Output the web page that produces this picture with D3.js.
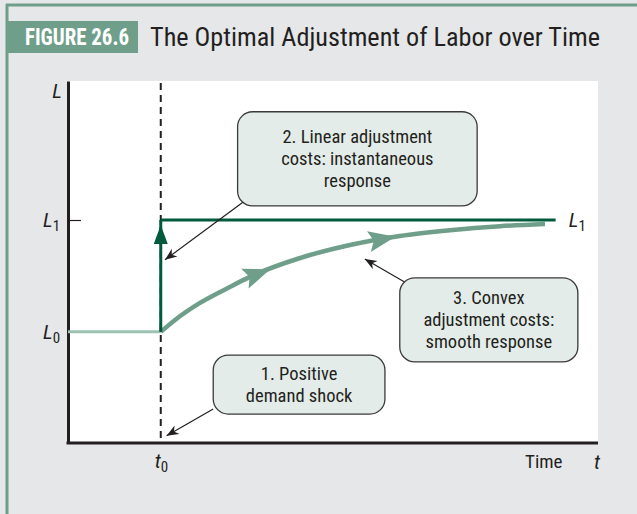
<!DOCTYPE html>
<html>
<head>
<meta charset="utf-8">
<script src="https://cdn.jsdelivr.net/npm/d3@7"></script>
<style>
  body { margin:0; background:#e6e7e9; }
  text { font-family: "Liberation Sans Narrow", "Roboto Condensed", "Arial Narrow", sans-serif; }
</style>
</head>
<body>
<svg id="drawing_region"></svg>
<script>
// values (time 0..100, labor 0..100)
const t0 = 17.5;
const L0 = 30.7;
const L1 = 61.6;
const tEnd = 92;          // end of instantaneous path
const curveT = [17.5, 20.2, 24.9, 30, 34.3, 43.8, 53.2, 62.6, 72.1, 81.5, 90];
const curveL = [30.7, 34.0, 38.7, 42.7, 45.9, 51.1, 54.7, 57.2, 58.8, 59.9, 60.5];
const curveArrowsT = [35.5, 59];
const callouts = [
  {lines:["2. Linear adjustment","costs: instantaneous","response"], box:[32, 77.2, 91.5, 65.5], tip:[18.3, 50.6], from:[33, 66.5]},
  {lines:["3. Convex","adjustment costs:","smooth response"], box:[62.6, 96.2, 45.6, 22.4], tip:[56, 50.8], from:[63.5, 44.5]},
  {lines:["1. Positive","demand shock"], box:[27.4, 59.8, 24.3, 8], tip:[18.6, 2], from:[27.4, 9.4]}
];
const title = "The Optimal Adjustment of Labor over Time";
const figLabel = "FIGURE 26.6";

const W = 637, H = 514;
const margin = {top:81, right:39, bottom:71, left:68};
const svg = d3.select('#drawing_region').attr('width', W).attr('height', H);

// frame
svg.append('rect').attr('width', W).attr('height', H).attr('fill', '#e6e7e9');
svg.append('line').attr('x1', 6).attr('x2', W).attr('y1', 5).attr('y2', 5)
  .attr('stroke', '#6f9f8a').attr('stroke-width', 3);
svg.append('line').attr('x1', 7).attr('x2', 7).attr('y1', 4).attr('y2', H)
  .attr('stroke', '#6f9f8a').attr('stroke-width', 3);
svg.append('rect').attr('x', 7).attr('y', 21).attr('width', 131).attr('height', 32).attr('fill', '#6f9f8a');
svg.append('text').attr('x', 25).attr('y', 45).attr('textLength', 104).attr('lengthAdjust', 'spacingAndGlyphs')
  .attr('fill', '#fff').attr('font-size', 24).attr('font-weight', 'bold').text(figLabel);
svg.append('text').attr('x', 150).attr('y', 46).attr('textLength', 450).attr('lengthAdjust', 'spacingAndGlyphs')
  .attr('fill', '#231f20').attr('font-size', 25).text(title);

const iw = W - margin.left - margin.right;
const ih = H - margin.top - margin.bottom;
const chart = svg.append('g').attr('transform', `translate(${margin.left},${margin.top})`);
chart.append('rect').attr('width', iw).attr('height', ih).attr('fill', '#fff');

const x = d3.scaleLinear().domain([0, 100]).range([0, iw]);
const y = d3.scaleLinear().domain([0, 100]).range([ih, 0]);

// axes
const yaxis = d3.axisLeft(y).tickValues([L1]).tickSizeInner(-13).tickSizeOuter(0).tickFormat('');
const yg = chart.append('g').call(yaxis);
yg.select('.domain').attr('stroke', '#231f20').attr('stroke-width', 3);
yg.selectAll('.tick line').attr('stroke', '#231f20').attr('stroke-width', 1.2);
const xaxis = d3.axisBottom(x).tickValues([]).tickSizeOuter(0);
const xg = chart.append('g').attr('transform', `translate(0,${ih})`).call(xaxis);
xg.select('.domain').attr('stroke', '#231f20').attr('stroke-width', 3).attr('d', `M-1.5,0H${iw}`);

function subLabel(g, xp, yp, main, sub, anchor) {
  const t = g.append('text').attr('x', xp).attr('y', yp).attr('font-size', 21)
    .attr('fill', '#231f20').attr('text-anchor', anchor || 'start');
  t.append('tspan').attr('font-style', 'italic').text(main);
  if (sub) t.append('tspan').attr('font-size', 15).attr('dy', 4).text(sub);
}
subLabel(chart, -11, 17, 'L', null, 'middle');
subLabel(chart, -25, y(L1) + 7, 'L', '1');
subLabel(chart, -25, y(L0) + 7, 'L', '0');
subLabel(chart, x(t0) - 6, ih + 25, 't', '0');
subLabel(chart, x(94.5), y(L1) + 7, 'L', '1');
chart.append('text').attr('x', 457).attr('y', ih + 25).attr('font-size', 19).attr('fill', '#231f20').text('Time');
subLabel(chart, 526, ih + 26, 't');

// dashed t0 line
chart.append('line').attr('x1', x(t0)).attr('x2', x(t0)).attr('y1', 2).attr('y2', ih)
  .attr('stroke', '#231f20').attr('stroke-width', 2).attr('stroke-dasharray', '7,5');

// initial level
chart.append('line').attr('x1', x(0)).attr('x2', x(t0)).attr('y1', y(L0)).attr('y2', y(L0))
  .attr('stroke', '#9dc2b2').attr('stroke-width', 3);

// smooth response
const pts = curveT.map((t, i) => [t, curveL[i]]);
const line = d3.line().x(d => x(d[0])).y(d => y(d[1])).curve(d3.curveMonotoneX);
chart.append('path').attr('d', line(pts)).attr('fill', 'none')
  .attr('stroke', '#6f9f8a').attr('stroke-width', 4.5).attr('stroke-linecap', 'butt');
const interp = d3.scaleLinear().domain(curveT).range(curveL);
curveArrowsT.forEach(t => {
  const px = x(t), py = y(interp(t));
  const px2 = x(t + 1), py2 = y(interp(t + 1));
  const ang = Math.atan2(py2 - py, px2 - px) * 180 / Math.PI;
  chart.append('path').attr('d', 'M15,0L-12,-10.5L-7,0L-12,10.5Z')
    .attr('transform', `translate(${px},${py}) rotate(${ang})`).attr('fill', '#6f9f8a');
});

// instantaneous response
const dark = '#005a3b';
chart.append('line').attr('x1', x(t0)).attr('x2', x(t0)).attr('y1', y(L0)).attr('y2', y(L1))
  .attr('stroke', dark).attr('stroke-width', 3);
chart.append('line').attr('x1', x(t0)).attr('x2', x(tEnd)).attr('y1', y(L1)).attr('y2', y(L1))
  .attr('stroke', dark).attr('stroke-width', 3);
chart.append('path').attr('d', 'M0,-19L-7,0L7,0Z')
  .attr('transform', `translate(${x(t0)},${y(L1) + 24})`).attr('fill', dark);

// callouts
svg.append('defs').append('marker').attr('id', 'ah').attr('viewBox', '0 0 10 10')
  .attr('refX', 10).attr('refY', 5).attr('markerWidth', 12).attr('markerHeight', 12)
  .attr('markerUnits', 'userSpaceOnUse').attr('orient', 'auto')
  .append('path').attr('d', 'M0,1L10,5L0,9L3,5Z').attr('fill', '#231f20');
callouts.forEach(c => {
  chart.append('line').attr('x1', x(c.from[0])).attr('y1', y(c.from[1]))
    .attr('x2', x(c.tip[0])).attr('y2', y(c.tip[1]))
    .attr('stroke', '#231f20').attr('stroke-width', 1.2).attr('marker-end', 'url(#ah)');
  const bx = x(c.box[0]), bw = x(c.box[1]) - bx;
  const by = y(c.box[2]), bh = y(c.box[3]) - by;
  chart.append('rect').attr('x', bx).attr('y', by).attr('width', bw).attr('height', bh)
    .attr('rx', 15).attr('fill', '#e3ece8').attr('stroke', '#3a3a3a').attr('stroke-width', 1.3);
  const cx = bx + bw / 2;
  const startY = by + bh / 2 - (c.lines.length - 1) * 11 + 6;
  c.lines.forEach((s, i) => {
    chart.append('text').attr('x', cx).attr('y', startY + i * 22).attr('text-anchor', 'middle')
      .attr('font-size', 18.5).attr('fill', '#231f20').text(s);
  });
});
</script>
</body>
</html>
